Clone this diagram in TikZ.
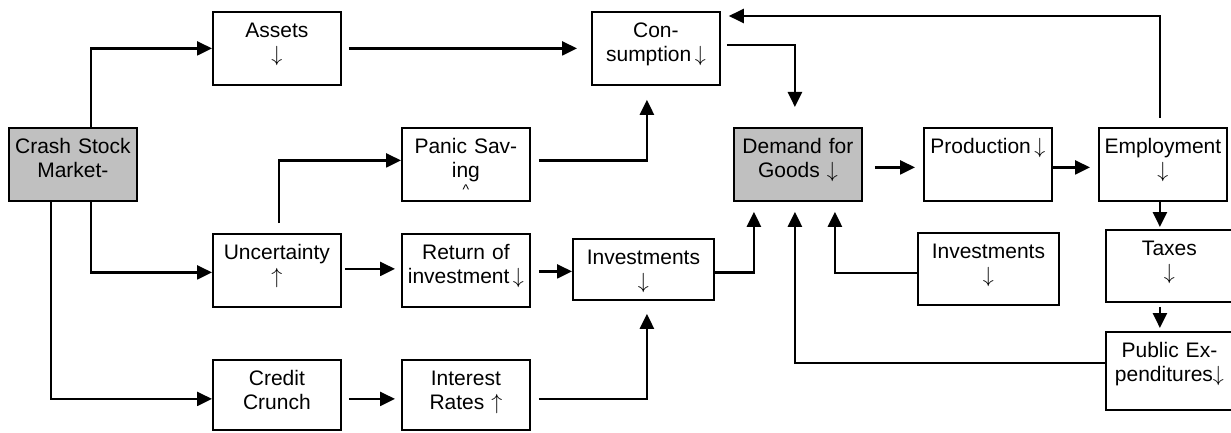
\documentclass[tikz,border=0pt]{standalone}
\usepackage{fontspec}
\setmainfont{Liberation Sans}
\usetikzlibrary{arrows.meta, calc}
\definecolor{keygray}{RGB}{192,192,192}

\begin{document}
\begin{tikzpicture}[x=0.5pt, y=-0.5pt, >={Triangle[length=7.5pt, width=7pt]},
  box/.style={draw, line width=0.9pt, anchor=north west, align=center,
    inner xsep=0pt, inner ysep=0pt, text width=64pt,
    text height=13pt, text depth=23.5pt,
    font=\fontsize{10.5}{12}\selectfont},
  key/.style={box, fill=keygray},
  link/.style={->, line width=1.2pt}]

  \useasboundingbox (0,0) rectangle (1231,433);

  % Boxes
  \node[key] (crash) at (8,127) {Crash Stock\\Market-};
  \node[box] (assets) at (212,11) {Assets\\$\downarrow$};
  \node[box] (cons) at (591,11) {Con-\\sumption\,$\downarrow$};
  \node[box] (panic) at (401,127) {Panic Sav-\\ing\\[-3.5pt]{\scriptsize\textasciicircum}};
  \node[key] (demand) at (733,127) {Demand for\\Goods $\downarrow$};
  \node[box] (prod) at (923,127) {Production\,$\downarrow$};
  \node[box] (empl) at (1098,127) {Employment\\$\downarrow$};
  \node[box] (unc) at (212,233) {Uncertainty\\$\uparrow$};
  \node[box] (ret) at (401,233) {Return of\\investment\,$\downarrow$};
  \node[box, text width=70.5pt, text depth=17.5pt] (invm) at (572,238) {Investments\\$\downarrow$};
  \node[box, text width=70.5pt, text depth=23pt] (invr) at (917,232) {Investments\\$\downarrow$};
  \node[box, text width=63.5pt, text depth=23pt] (taxes) at (1105,229) {Taxes\\$\downarrow$};
  \node[box, text width=63.5pt, text depth=26pt] (public) at (1105,331) {Public Ex-\\penditures$\downarrow$};
  \node[box, text depth=22pt] (credit) at (212,359) {Credit\\Crunch};
  \node[box, text depth=22pt] (interest) at (401,359) {Interest\\Rates $\uparrow$};

  % Stock market branches
  \draw[link] ($(crash.north)+(18,0)$) |- (assets.west);
  \draw[link] ($(crash.south)+(18,0)$) |- ($(unc.west)+(0,2)$);
  \draw[link] ($(crash.south)+(-22,0)$) |- ($(credit.west)+(0,4)$);

  % Consumption side
  \draw[link, shorten <=3.5pt, shorten >=7pt] (assets.east) -- (cons.west);
  \draw[link, shorten <=5pt] ($(unc.north)+(2,0)$) |- ($(panic.west)+(0,-4)$);
  \draw[link, shorten <=4pt, shorten >=7pt] ($(panic.east)+(0,-4)$) -| ($(cons.south)+(-9,0)$);
  \draw[link, shorten <=3pt, shorten >=10pt] ($(cons.east)+(0,-3.5)$) -| ($(demand.north)+(-3,0)$);

  % Investment side
  \draw[link, shorten <=1.5pt, shorten >=3pt] ($(unc.east)+(0,-1.5)$) -- ($(ret.west)+(0,-1.5)$);
  \draw[link, shorten <=4pt] ($(ret.east)+(0,1)$) -- ($(invm.west)+(0,2)$);
  \draw[link, shorten <=3.5pt, shorten >=3pt] ($(credit.east)+(0,4)$) -- ($(interest.west)+(0,4)$);
  \draw[link, shorten <=4pt, shorten >=6.5pt] ($(interest.east)+(0,4)$) -| ($(invm.south)+(3.5,0)$);

  % Into demand
  \draw[link, shorten >=5pt] ($(invm.east)+(0,3)$) -| ($(demand.south)+(-44,0)$);
  \draw[link, shorten >=5pt] ($(public.west)+(0,-8)$) -| ($(demand.south)+(-3,0)$);
  \draw[link, shorten >=5pt] ($(invr.west)+(0,4)$) -| ($(demand.south)+(37,0)$);

  % Output chain
  \draw[link, shorten <=6pt, shorten >=4pt] ($(demand.east)+(0,3)$) -- ($(prod.west)+(0,3)$);
  \draw[link, shorten >=4pt] ($(prod.east)+(0,3)$) -- ($(empl.west)+(0,3)$);
  \draw[link, shorten <=4.5pt, shorten >=4pt] ($(empl.north)+(-3,0)$) |- ($(cons.north east)+(0,5)$);

  % Taxes and expenditures
  \coordinate (tx) at ($(empl.south)+(-3,0)$);
  \draw[link, shorten >=1pt] (tx) -- (tx |- taxes.north);
  \draw[link, shorten <=2pt, shorten >=1.5pt] (tx |- taxes.south) -- (tx |- public.north);

\end{tikzpicture}
\end{document}
